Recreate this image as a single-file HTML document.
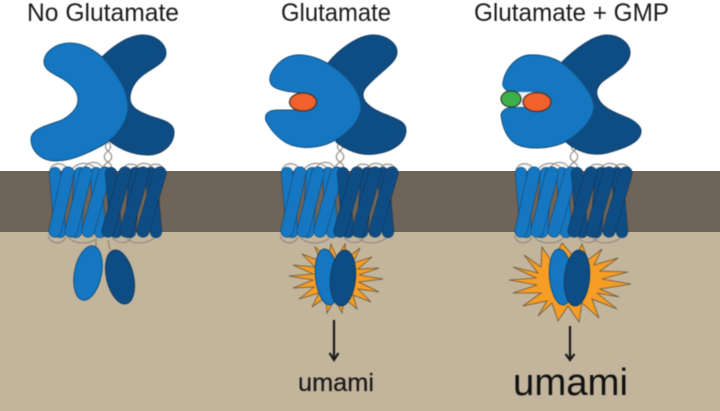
<!DOCTYPE html>
<html><head><meta charset="utf-8"><style>
html,body{margin:0;padding:0;background:#fff;width:720px;height:411px;overflow:hidden}
svg{display:block}
.b{filter:blur(.4px)}
text{font-family:"Liberation Sans",sans-serif;fill:#1a1a1a}
</style></head><body>
<svg width="720" height="411" viewBox="0 0 720 411" xmlns="http://www.w3.org/2000/svg">
<defs>
<g id="tm">
  <g fill="none" stroke="#8a8580" stroke-width="1.1">
    <path d="M104 138C112 144 112 148 108 151C103 155 103 159 108 162C111 164 112 166 112 170M112 138C104 144 104 148 108 151C113 155 113 159 108 162C105 164 103 166 102 170"/>
  </g>
  <g fill="#f4f4f2" stroke="#8a8580" stroke-width="1">
    <path d="M50 170C52 162 64 161 68 170M72 170C76 162 90 160 96 170M84 168C88 160 100 160 104 170M122 170C126 162 136 162 140 170M134 170C138 161 150 161 154 170M148 170C150 162 160 162 165 170"/>
  </g>
  <g fill="none" stroke="#8a8580" stroke-width="1">
    <path d="M48 236C52 245 62 245 66 237M68 237C74 245 92 245 98 237M112 237C118 245 128 244 132 237M126 237C132 245 146 245 156 237"/>
  </g>
  <g fill="none" stroke-linecap="round">
    <g stroke="#123c63" stroke-width="12">
      <path d="M55 173L60 232M80 173L76 232M96 173L100 232"/>
    </g>
    <g stroke="#1577c1" stroke-width="11">
      <path d="M55 173L60 232M80 173L76 232M96 173L100 232"/>
    </g>
    <g stroke="#123c63" stroke-width="13">
      <path d="M68 173L55 231M86 173L71 231M105 173L88 231"/>
    </g>
    <g stroke="#1577c1" stroke-width="12">
      <path d="M68 173L55 231M86 173L71 231M105 173L88 231"/>
    </g>
    <g stroke="#0f2f4f" stroke-width="12">
      <path d="M111 173L116 232M135 173L130 232M151 173L156 232"/>
    </g>
    <g stroke="#0e4d84" stroke-width="11">
      <path d="M111 173L116 232M135 173L130 232M151 173L156 232"/>
    </g>
    <g stroke="#0f2f4f" stroke-width="13">
      <path d="M125 173L108 231M143 173L126 231M160 173L143 231"/>
    </g>
    <g stroke="#0e4d84" stroke-width="12">
      <path d="M125 173L108 231M143 173L126 231M160 173L143 231"/>
    </g>
  </g>
</g>
</defs>
<rect width="720" height="411" fill="#fff"/>
<rect y="171" width="720" height="62" fill="#6f6459"/>
<rect y="232" width="720" height="179" fill="#c3b59c"/>

<g class="b">
<text x="27" y="21" font-size="25" textLength="152" lengthAdjust="spacingAndGlyphs">No Glutamate</text>
<text x="281" y="21" font-size="25" textLength="110" lengthAdjust="spacingAndGlyphs">Glutamate</text>
<text x="474" y="21" font-size="25" textLength="195" lengthAdjust="spacingAndGlyphs">Glutamate + GMP</text>

<use href="#tm"/>
<use href="#tm" x="232"/>
<use href="#tm" x="466"/>

<!-- Panel 1 -->
<path d="M102 57C112 47 128 35 143 35C156 35 166 44 166 53C166 63 152 68 143 75C135 81 130 90 130 98C130 110 145 114 153 117C163 120 174 123 174 132C174 145 162 155 148 155C132 155 118 148 108 140Z" fill="#0e4d84" stroke="#123c63" stroke-width="1"/>
<path d="M70 43C56 43 44 52 44 62C44 70 54 74 63 79C72 85 78 91 78 100C78 108 71 115 62 120C50 125 31 128 31 139C31 150 40 161 56 161C72 161 90 152 103 145C116 137 128 122 128 107C128 90 116 72 102 57C94 50 83 43 70 43Z" fill="#1577c1" stroke="#14507f" stroke-width="1"/>
<path d="M96 240L96 252M108 240L110 250" stroke="#8a7a62" stroke-width="1" fill="none"/>
<ellipse cx="88" cy="273" rx="13.5" ry="27.5" transform="rotate(11 88 273)" fill="#1577c1" stroke="#14507f"/>
<ellipse cx="120" cy="277" rx="13.5" ry="27.5" transform="rotate(-13 120 277)" fill="#0e4d84" stroke="#123c63"/>

<!-- Panel 2 -->
<path d="M328 63C338 50 358 35 373 35C386 35 397 43 397 52C397 62 385 68 370 83C365 88 363 91 363 95C363 104 376 111 387 115C397 119 406 122 406 130C406 143 392 152 375 154C360 156 346 150 336 142Z" fill="#0e4d84" stroke="#123c63" stroke-width="1"/>
<path d="M296 55C312 54 328 62 340 72C354 84 361 96 361 108C360 122 345 137 327 144C310 150 292 148 282 140C274 134 270 128 266 121C264 114 268 110 278 110C285 110 296 110 302 110L302 93C292 92 280 91 274 87C268 83 269 76 273 70C279 61 287 56 296 55Z" fill="#1577c1" stroke="#14507f" stroke-width="1"/>
<ellipse cx="303" cy="102" rx="13.5" ry="9" fill="#f2602c" stroke="#4a3328" stroke-width="1.2"/>

<!-- Panel 3 -->
<path d="M562 62C572 52 592 35 607 35C620 35 631 44 630 54C629 66 612 74 602 82C597 87 596 91 597 95C600 108 616 113 628 118C636 122 641 126 641 131C641 142 626 148 607 153C590 157 575 150 566 142Z" fill="#0e4d84" stroke="#123c63" stroke-width="1"/>
<path d="M528 55C544 54 556 58 566 66C580 78 594 95 594 108C592 122 578 135 563 143C548 149 528 150 516 144C506 138 502 125 501 115C502 110 506 108 512 107L530 107L530 93L510 92C505 90 502 87 503 82C505 70 515 57 528 55Z" fill="#1577c1" stroke="#14507f" stroke-width="1"/>
<rect x="512" y="92" width="22" height="15" fill="#eef0f0"/>
<ellipse cx="511" cy="99" rx="10" ry="8" fill="#3db04a" stroke="#2c4030" stroke-width="1.2"/>
<ellipse cx="537" cy="102" rx="14" ry="9.5" fill="#f2602c" stroke="#4a3328" stroke-width="1.2"/>

<!-- Burst 2 -->
<polygon points="315,247 320,261 302,254 315,267 293,265 313,274 289,276 313,280 293,288 314,287 299,299 319,293 312,307 326,297 327,313 335,299 342,313 344,298 357,309 353,295 371,302 358,289 379,292 359,282 383,279 359,275 379,268 358,269 372,257 353,263 360,248 346,259 345,244 337,258 331,244 328,258" fill="#f59d24" stroke="#6a5638" stroke-width=".8"/>
<ellipse cx="327" cy="277" rx="11.5" ry="28" transform="rotate(-6 327 277)" fill="#1577c1" stroke="#14507f"/>
<ellipse cx="343" cy="278" rx="12.5" ry="28" transform="rotate(5 343 278)" fill="#0e4d84" stroke="#123c63"/>

<!-- Burst 3 -->
<polygon points="562,243 552,262 542,247 541,267 524,255 538,273 513,267 536,278 509,280 537,285 513,293 541,293 523,306 547,301 538,316 552,303 558,321 568,306 579,322 582,303 599,318 592,299 617,309 597,293 619,297 600,289 631,284 602,279 628,272 600,271 618,258 594,265 602,249 588,260 582,244 575,258" fill="#f59d24" stroke="#6a5638" stroke-width=".8"/>
<ellipse cx="561" cy="277" rx="11.5" ry="28" transform="rotate(-5 561 277)" fill="#1577c1" stroke="#14507f"/>
<ellipse cx="577" cy="278" rx="12.5" ry="28" transform="rotate(5 577 278)" fill="#0e4d84" stroke="#123c63"/>

<!-- Arrows -->
<g stroke="#1a1a1a" fill="none" stroke-width="2.2">
  <path d="M334 320V359"/>
  <path d="M329.500 353L334 360L338.500 353"/>
  <path d="M570 326V359"/>
  <path d="M565.500 354L570 360L574.500 354"/>
</g>

<text x="298" y="391" font-size="25" textLength="76" lengthAdjust="spacingAndGlyphs" stroke="#1a1a1a" stroke-width=".25">umami</text>
<text x="513" y="395" font-size="38" textLength="115" lengthAdjust="spacingAndGlyphs" style="fill:#111">umami</text>
</g>
</svg>
</body></html>
